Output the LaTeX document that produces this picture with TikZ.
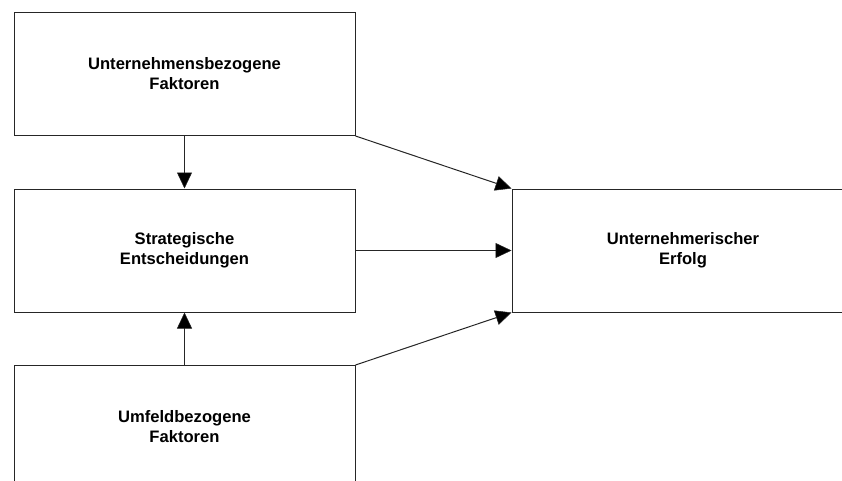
\documentclass[tikz,border=0pt]{standalone}
\usepackage{fontspec}
\setmainfont{Liberation Sans}
\usetikzlibrary{arrows.meta}
\begin{document}
\begin{tikzpicture}[x=1pt,y=-1pt,
  box/.style={draw=black!85, line width=1pt, minimum width=341pt, minimum height=123pt, inner sep=0pt, align=center, font=\fontsize{16.6}{20}\selectfont\bfseries},
  conn/.style={draw=black!85, line width=1pt, -{Triangle[length=16pt,width=15pt,fill=black,line width=0.5pt]}}]
\useasboundingbox (0,0) rectangle (842,481);
\clip (0,0) rectangle (842,481);
\node[box] (u) at (184.5,74) {Unternehmensbezogene\\Faktoren};
\node[box] (s) at (184.5,250.5) {Strategische\\Entscheidungen};
\node[box] (f) at (184.5,427) {Umfeldbezogene\\Faktoren};
\node[box, minimum width=342pt] (e) at (683,250.5) {Unternehmerischer\\Erfolg};
\draw[conn] (u.south) -- (s.north);
\draw[conn] (f.north) -- (s.south);
\draw[conn] (u.south east) -- (e.north west);
\draw[conn] (s.east) -- (e.west);
\draw[conn] (f.north east) -- (e.south west);
\end{tikzpicture}
\end{document}
